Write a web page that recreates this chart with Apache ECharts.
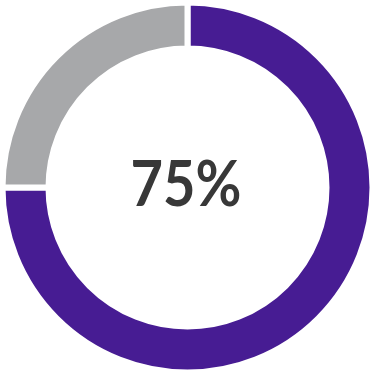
<!DOCTYPE html>
<html><head><meta charset="utf-8">
<script src="https://cdn.jsdelivr.net/npm/echarts@6/dist/echarts.min.js"></script>
<style>html,body{margin:0;padding:0;background:#fff}#c{width:375px;height:375px}</style>
</head><body><div id="c"></div>
<script>
const categories = ['Complete', 'Remaining'];
const values = [75, 25];
const centerLabel = '75%';
const colors = ['#471c93', '#a7a8aa'];

const chart = echarts.init(document.getElementById('c'), null, {renderer: 'canvas'});
chart.setOption({
  animation: false,
  series: [{
    type: 'pie',
    center: ['50%', '50%'],
    radius: [139, 185],
    startAngle: 90,
    clockwise: true,
    label: {show: false},
    labelLine: {show: false},
    emphasis: {disabled: true},
    itemStyle: {borderColor: '#ffffff', borderWidth: 6},
    data: categories.map((c, i) => ({name: c, value: values[i], itemStyle: {color: colors[i]}}))
  }],
  graphic: [{
    type: 'text',
    x: 186,
    y: 185,
    scaleX: 0.875,
    style: {
      text: centerLabel,
      font: 'bold 64px Lato',
      fill: '#383838',
      textAlign: 'center',
      textVerticalAlign: 'middle'
    }
  }]
});
</script></body></html>
